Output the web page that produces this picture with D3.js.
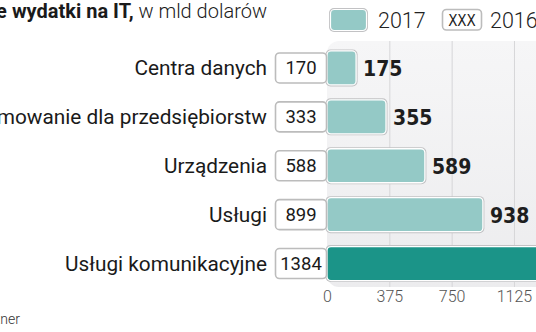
<!DOCTYPE html>
<html>
<head>
<meta charset="utf-8">
<script src="https://cdn.jsdelivr.net/npm/d3@7/dist/d3.min.js"></script>
<style>
  html, body { margin: 0; padding: 0; background: #fff; overflow: hidden; }
  svg { display: block; }
</style>
</head>
<body>
<svg id="chart" width="536" height="332"></svg>
<script>
// Globalne wydatki na IT (mld USD), 2016 vs 2017
const categories = ["Centra danych", "Oprogramowanie dla przedsiębiorstw", "Urządzenia", "Usługi", "Usługi komunikacyjne"];
const values2017 = [175, 355, 589, 938, 1408];
const values2016 = [170, 333, 588, 899, 1384];
const ticks = [0, 375, 750, 1125, 1500];
const highlight = ["Usługi komunikacyjne"];

const W = 536, H = 332;
const svg = d3.select("#chart");

const LIGHT = "#94c9c6", DARK = "#1b9488";
const sans = "Roboto, 'Open Sans', sans-serif";
const bold = "'DejaVu Sans Condensed', 'DejaVu Sans', sans-serif";

const x = d3.scaleLinear().domain([0, 1500]).range([327, 576.3]);
const y = d3.scaleBand().domain(categories).range([43.5, 288]).paddingInner(0.305).paddingOuter(0.1525);

// panel background
const panel = svg.append("g");
const grad = svg.append("defs").append("linearGradient")
  .attr("id", "pg").attr("x1", 0).attr("y1", 0).attr("x2", 0).attr("y2", 1);
grad.append("stop").attr("offset", "0%").attr("stop-color", "#f6f6f7");
grad.append("stop").attr("offset", "100%").attr("stop-color", "#ececee");
panel.append("rect")
  .attr("x", x(0)).attr("y", 41).attr("width", 400).attr("height", 246)
  .attr("rx", 12).attr("fill", "url(#pg)");

// grid
svg.append("g").selectAll("line").data(ticks.slice(1)).join("line")
  .attr("x1", d => x(d) + 0.5).attr("x2", d => x(d) + 0.5)
  .attr("y1", 41).attr("y2", 287)
  .attr("stroke", "#d6d6d8").attr("stroke-width", 1);

// axis labels
const axis = d3.axisBottom(x).tickValues(ticks).tickFormat(d3.format("d")).tickSize(0).tickPadding(0);
const ax = svg.append("g").attr("transform", "translate(0,291)").call(axis);
ax.select(".domain").remove();
ax.selectAll("text")
  .attr("dy", "0.71em")
  .attr("font-family", sans).attr("font-weight", 300)
  .attr("font-size", 16).attr("fill", "#555");

// bars
const rows = svg.append("g").selectAll("g").data(categories).join("g");
const bh = y.bandwidth();

rows.append("rect")
  .attr("x", x(0) - 1.5)
  .attr("y", d => y(d) - 1.5)
  .attr("width", (d, i) => x(values2017[i]) - x(0) + 3)
  .attr("height", bh + 3)
  .attr("rx", 5).attr("fill", "#c2c2c4");
rows.append("rect")
  .attr("x", x(0))
  .attr("y", d => y(d))
  .attr("width", (d, i) => x(values2017[i]) - x(0))
  .attr("height", bh)
  .attr("rx", 4)
  .attr("fill", d => highlight.includes(d) ? DARK : LIGHT)
  .attr("stroke", "#fff").attr("stroke-width", 1.3);

// 2016 value boxes
rows.append("rect")
  .attr("x", 275.5)
  .attr("y", d => y(d) + bh / 2 - 15)
  .attr("width", 51).attr("height", 30)
  .attr("rx", 4)
  .attr("fill", "#fff").attr("stroke", "#bcbcbc").attr("stroke-width", 1.6);
rows.append("text")
  .attr("x", 301)
  .attr("y", d => y(d) + bh / 2 + 6.5)
  .attr("text-anchor", "middle")
  .attr("font-family", sans).attr("font-size", 18.5).attr("fill", "#1a1a1a")
  .text((d, i) => values2016[i]);

// 2017 value labels
rows.append("text")
  .attr("x", (d, i) => x(values2017[i]) + 7)
  .attr("y", d => y(d) + bh / 2 + 8)
  .attr("font-family", bold).attr("font-weight", "bold")
  .attr("font-size", 21).attr("fill", "#1e1e1e")
  .text((d, i) => values2017[i]);

// category labels
rows.append("text")
  .attr("x", 267)
  .attr("y", d => y(d) + bh / 2 + 7)
  .attr("text-anchor", "end")
  .attr("font-family", sans).attr("font-size", 20.8).attr("fill", "#1a1a1a")
  .text(d => d);

// title
const title = svg.append("text")
  .attr("x", 267).attr("y", 18)
  .attr("text-anchor", "end")
  .attr("font-family", sans).attr("font-size", 20).attr("fill", "#1a1a1a");
title.append("tspan").attr("font-weight", "bold").text("Globalne wydatki na IT,");
title.append("tspan").attr("font-weight", 300).text(" w mld dolarów");

// legend
const lg = svg.append("g");
lg.append("rect").attr("x", 329).attr("y", 8).attr("width", 39).attr("height", 24)
  .attr("rx", 5).attr("fill", "#c2c2c4");
lg.append("rect").attr("x", 330.5).attr("y", 9.5).attr("width", 36).attr("height", 21)
  .attr("rx", 4).attr("fill", LIGHT).attr("stroke", "#fff").attr("stroke-width", 1.2);
lg.append("text").attr("x", 378).attr("y", 28)
  .attr("font-family", sans).attr("font-weight", 300).attr("font-size", 21.5).attr("fill", "#222")
  .text("2017");
lg.append("rect").attr("x", 442.5).attr("y", 9.5).attr("width", 39).attr("height", 20.5)
  .attr("rx", 4).attr("fill", "#fff").attr("stroke", "#bcbcbc").attr("stroke-width", 1.6);
lg.append("text").attr("x", 462).attr("y", 25.5).attr("text-anchor", "middle")
  .attr("font-family", bold).attr("font-size", 15).attr("fill", "#222")
  .text("XXX");
lg.append("text").attr("x", 490).attr("y", 28)
  .attr("font-family", sans).attr("font-weight", 300).attr("font-size", 21.5).attr("fill", "#222")
  .text("2016");

// source
svg.append("text").attr("x", 20).attr("y", 324).attr("text-anchor", "end")
  .attr("font-family", sans).attr("font-weight", 300).attr("font-size", 14).attr("fill", "#333")
  .text("Źródło: Gartner");
</script>
</body>
</html>
